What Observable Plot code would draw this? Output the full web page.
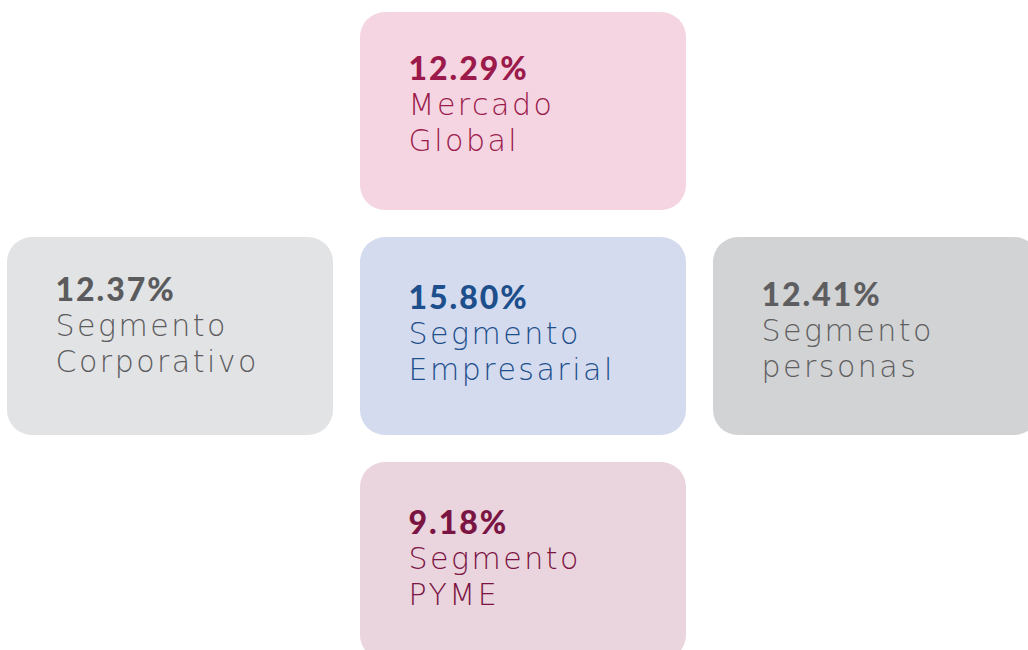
<!DOCTYPE html>
<html>
<head>
<meta charset="utf-8">
<script src="https://cdn.jsdelivr.net/npm/d3@7"></script>
<script src="https://cdn.jsdelivr.net/npm/@observablehq/plot@0.6"></script>
<style>
  html, body { margin: 0; padding: 0; background: #ffffff; overflow: hidden; }
  svg { display: block; }
</style>
</head>
<body>
<div id="chart"></div>
<script>
// Data
const segments = ["Mercado Global", "Segmento Corporativo", "Segmento Empresarial", "Segmento personas", "Segmento PYME"];
const labels = ["Mercado\nGlobal", "Segmento\nCorporativo", "Segmento\nEmpresarial", "Segmento\npersonas", "Segmento\nPYME"];
const values = [12.29, 12.37, 15.80, 12.41, 9.18];
const fills = ["#f4d5e1", "#e2e3e5", "#d5dbee", "#d2d3d5", "#ead4dd"];
const inks = ["#9b1a4b", "#5b5b5d", "#1d4f8c", "#5e5e60", "#7a1442"];

// Layout: cross arrangement (column, row) and small vertical text nudge per box
const cols = [1, 0, 1, 2, 1];
const rows = [0, 1, 1, 1, 2];
const nudge = [-4, -8, 0, -3, 0];

const table = segments.map((s, i) => ({
  segment: s, label: labels[i], value: values[i],
  fill: fills[i], ink: inks[i], col: cols[i], row: rows[i], nudge: nudge[i]
}));

const chart = Plot.plot({
  width: 1028,
  height: 650,
  margin: 0,
  style: { fontFamily: "Lato, sans-serif", background: "#ffffff" },
  x: { type: "band", domain: [0, 1, 2], range: [7, 1039], paddingInner: 27 / 353, paddingOuter: 0, axis: null },
  y: { type: "band", domain: [0, 1, 2], range: [11, 660.5], paddingInner: 27 / 225.5, paddingOuter: 0, axis: null },
  marks: [
    Plot.cell(table, { x: "col", y: "row", fill: d => d.fill, rx: 25, ry: 25 }),
    ...table.map(d => Plot.text([d], {
      x: "col", y: "row",
      text: d => d.value.toFixed(2) + "%",
      fill: d => d.ink,
      textAnchor: "start", lineAnchor: "bottom",
      dx: -115, dy: -28 + d.nudge,
      fontFamily: "Lato, sans-serif",
      fontSize: 32, fontWeight: 900
    })),
    ...table.map(d => Plot.text([d], {
      x: "col", y: "row",
      text: "label",
      fill: d => d.ink,
      textAnchor: "start", lineAnchor: "bottom",
      lineHeight: 35.5 / 30,
      dx: -115, dy: 43 + d.nudge,
      fontFamily: "'DejaVu Sans', sans-serif",
      fontSize: 30, fontWeight: 200
    }))
  ]
});
d3.select(chart).selectAll('g[font-size="32"]').style("letter-spacing", "2px");
d3.select(chart).selectAll('g[font-size="30"]').style("letter-spacing", "2.5px");
document.getElementById("chart").appendChild(chart);
</script>
</body>
</html>
